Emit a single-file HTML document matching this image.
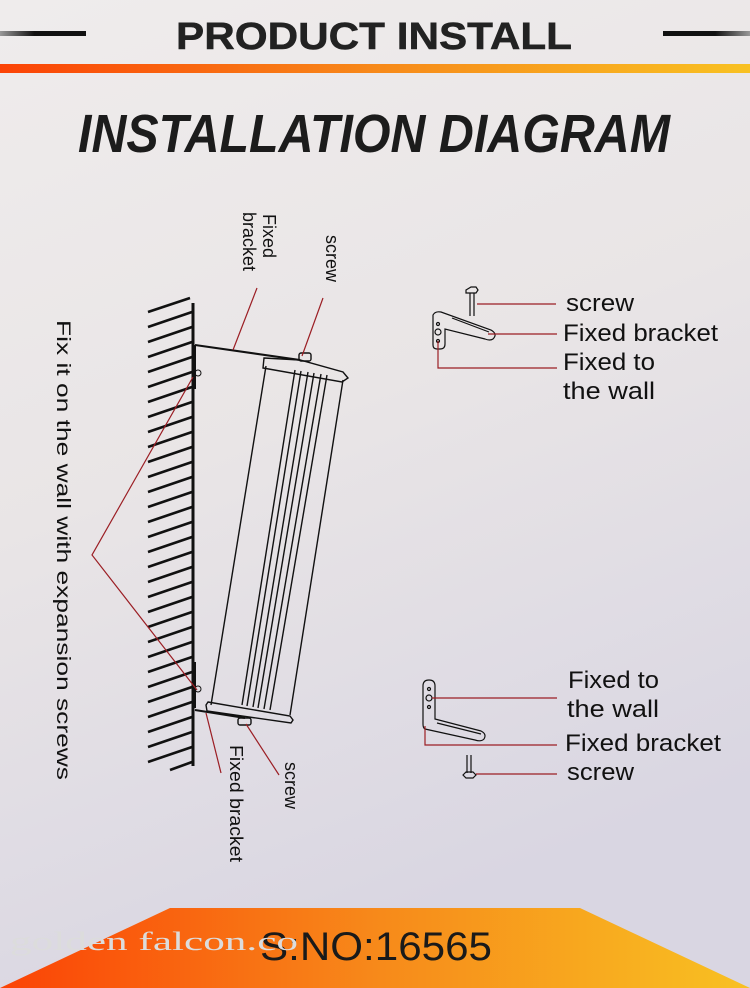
<!DOCTYPE html>
<html><head><meta charset="utf-8"><style>
html,body{margin:0;padding:0;}
body{width:750px;height:988px;overflow:hidden;background:#ece8e8;}
svg{display:block;}
</style></head><body>
<svg width="750" height="988" viewBox="0 0 750 988" xmlns="http://www.w3.org/2000/svg" font-family="Liberation Sans, sans-serif">
<defs>
<linearGradient id="bg" x1="0" y1="0" x2="0.3" y2="1">
<stop offset="0" stop-color="#efecec"/><stop offset="0.5" stop-color="#e9e5e6"/><stop offset="1" stop-color="#d9d6e2"/>
</linearGradient>
<linearGradient id="og" x1="0" x2="1"><stop offset="0" stop-color="#fb4306"/><stop offset="0.5" stop-color="#f7891a"/><stop offset="1" stop-color="#f8c122"/></linearGradient>
<linearGradient id="ln" x1="0" x2="1"><stop offset="0" stop-color="#999"/><stop offset="0.4" stop-color="#111"/><stop offset="1" stop-color="#111"/></linearGradient>
<linearGradient id="rn" x1="0" x2="1"><stop offset="0" stop-color="#111"/><stop offset="0.6" stop-color="#111"/><stop offset="1" stop-color="#999"/></linearGradient>
</defs>
<rect width="750" height="988" fill="url(#bg)"/>
<!-- header -->
<rect x="0" y="31" width="86" height="5" fill="url(#ln)"/>
<rect x="663" y="31" width="87" height="5" fill="url(#rn)"/>
<text x="176" y="49" font-size="38" font-weight="bold" fill="#222" textLength="396" lengthAdjust="spacingAndGlyphs" style="paint-order:stroke" stroke="#222" stroke-width="0.5">PRODUCT INSTALL</text>
<rect x="0" y="64" width="750" height="9" fill="url(#og)"/>
<text x="78" y="152" font-size="54" font-weight="bold" font-style="italic" fill="#1c1c1c" textLength="592" lengthAdjust="spacingAndGlyphs">INSTALLATION DIAGRAM</text>

<!-- wall -->
<line x1="193" y1="303" x2="193" y2="766" stroke="#111" stroke-width="3"/>
<g stroke="#111" stroke-width="2.6">
<path d="M148 312l42-14M148 327l44-15M148 342l44-15M148 357l44-15M148 372l44-15M148 387l44-15M148 402l44-15M148 417l44-15M148 432l44-15M148 447l44-15M148 462l44-15M148 477l44-15M148 492l44-15M148 507l44-15M148 522l44-15M148 537l44-15M148 552l44-15M148 567l44-15M148 582l44-15M148 597l44-15M148 612l44-15M148 627l44-15M148 642l44-15M148 657l44-15M148 672l44-15M148 687l44-15M148 702l44-15M148 717l44-15M148 732l44-15M148 747l44-15M148 762l44-15M170 770l22-8"/>
</g>
<!-- plates -->
<rect x="192" y="345" width="4" height="44" fill="#111"/>
<rect x="192" y="662" width="4" height="46" fill="#111"/>
<circle cx="198" cy="373" r="3" fill="none" stroke="#111" stroke-width="1"/>
<circle cx="198" cy="689" r="3" fill="none" stroke="#111" stroke-width="1"/>
<!-- speaker -->
<g fill="none" stroke="#111" stroke-width="1.4">
<line x1="195" y1="345" x2="300" y2="360" stroke-width="2"/>
<rect x="299" y="353" width="12" height="8" rx="2"/>
<path d="M264 358 L300 360 L343 372 L348 378 L342 382 L263 368 Z"/>
<line x1="266" y1="366" x2="211" y2="705"/>
<line x1="343" y1="380" x2="290" y2="715"/>
<line x1="295" y1="370" x2="242" y2="705"/>
<line x1="301" y1="371" x2="247" y2="706"/>
<line x1="308" y1="372" x2="253" y2="707"/>
<line x1="314" y1="373" x2="258" y2="708"/>
<line x1="321" y1="374" x2="264" y2="709"/>
<line x1="327" y1="375" x2="270" y2="710"/>
<path d="M208 702 L290 716 L293 720 L291 723 L207 711 L206 705 Z"/>
<line x1="195" y1="710" x2="245" y2="718" stroke-width="2"/>
<rect x="238" y="718" width="13" height="7" rx="2"/>
</g>
<!-- red leaders -->
<g stroke="#9b1e24" stroke-width="1.2" fill="none">
<line x1="257" y1="288" x2="233" y2="350"/>
<line x1="323" y1="298" x2="302" y2="356"/>
<polyline points="193,377 92,555 197,690"/>
<line x1="206" y1="713" x2="221" y2="773"/>
<line x1="246" y1="724" x2="279" y2="775"/>
</g>
<!-- rotated labels -->
<g font-size="19" fill="#111" font-family="Liberation Sans, sans-serif">
<text transform="translate(57,320) rotate(90)" textLength="460" lengthAdjust="spacingAndGlyphs">Fix it on the wall with expansion screws</text>
<text transform="translate(263,214) rotate(90)" font-size="18">Fixed</text>
<text transform="translate(243,212) rotate(90)" font-size="18">bracket</text>
<text transform="translate(326,235) rotate(90)" font-size="18">screw</text>
<text transform="translate(230,745) rotate(90)" font-size="18" textLength="117" lengthAdjust="spacingAndGlyphs">Fixed bracket</text>
<text transform="translate(285,762) rotate(90)" font-size="18">screw</text>
</g>

<!-- upper bracket detail -->
<g fill="none" stroke="#111" stroke-width="1.2">
<path d="M466 290 l5-3 l5 0 l2 3 l-2 3 l-10 0 Z"/>
<path d="M470 293 v23 M474 293 v23"/>
<path d="M433 315 q2-4 8-3 l50 18 q7 4 2 9 q-3 2 -8 0 l-40 -10 v15 q0 5 -5 5 l-3 0 q-4 0 -4 -4 Z"/>
<path d="M452 318 l37 14"/>
<circle cx="438" cy="324" r="1.5"/><circle cx="438" cy="332" r="3"/><circle cx="438" cy="341" r="1.5"/>
</g>
<g stroke="#9b1e24" stroke-width="1.2" fill="none">
<polyline points="477,304 556,304"/>
<polyline points="488,334 557,334"/>
<polyline points="438,341 438,368 557,368"/>
</g>
<g font-size="24" fill="#111">
<text x="566" y="311" textLength="68" lengthAdjust="spacingAndGlyphs">screw</text>
<text x="563" y="341" textLength="155" lengthAdjust="spacingAndGlyphs">Fixed bracket</text>
<text x="563" y="370" textLength="92" lengthAdjust="spacingAndGlyphs">Fixed to</text>
<text x="563" y="399" textLength="92" lengthAdjust="spacingAndGlyphs">the wall</text>
</g>

<!-- lower bracket detail -->
<g fill="none" stroke="#111" stroke-width="1.2">
<path d="M423 724 v-38 q0 -6 6 -6 q6 0 6 6 v33 l46 12 q6 3 3 8 q-3 3 -9 1 l-50 -11 q-2 -1 -2 -5 Z"/>
<path d="M437 723 l44 11"/>
<circle cx="429" cy="689" r="1.5"/><circle cx="429" cy="698" r="3"/><circle cx="429" cy="707" r="1.5"/>
<path d="M467 755 v18 M471 755 v18"/>
<path d="M463 775 l3-3 l7 0 l3 3 l-3 3 l-7 0 Z"/>
</g>
<g stroke="#9b1e24" stroke-width="1.2" fill="none">
<polyline points="432,698 557,698"/>
<polyline points="425,726 425,745 557,745"/>
<polyline points="476,774 557,774"/>
</g>
<g font-size="24" fill="#111">
<text x="568" y="688" textLength="91" lengthAdjust="spacingAndGlyphs">Fixed to</text>
<text x="567" y="717" textLength="92" lengthAdjust="spacingAndGlyphs">the wall</text>
<text x="565" y="751" textLength="156" lengthAdjust="spacingAndGlyphs">Fixed bracket</text>
<text x="567" y="780" textLength="67" lengthAdjust="spacingAndGlyphs">screw</text>
</g>

<!-- bottom banner -->
<polygon points="170,908 580,908 750,988 0,988" fill="url(#og)"/>
<text x="260" y="960" font-size="40" fill="#1a1a1a" textLength="232" lengthAdjust="spacingAndGlyphs">S:NO:16565</text>
<text x="10" y="950" font-size="26" fill="#dcdcdc" font-family="Liberation Serif, serif" textLength="288" lengthAdjust="spacingAndGlyphs">golden falcon.co</text>
</svg>
</body></html>
